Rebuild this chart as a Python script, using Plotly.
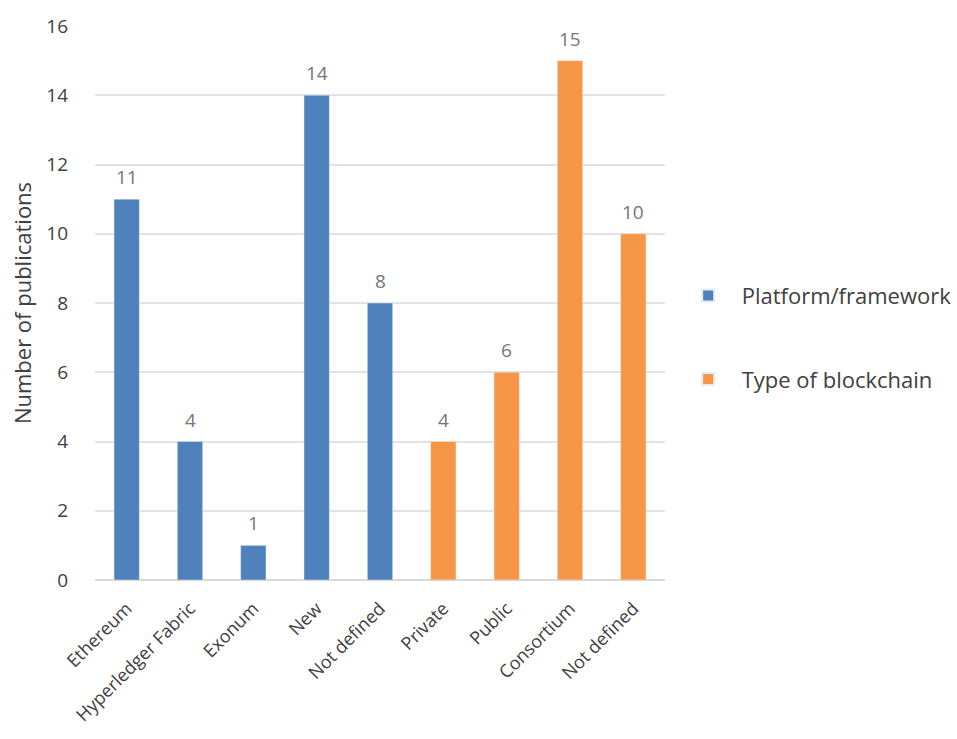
import plotly.graph_objects as go

platform_labels = ["Ethereum", "Hyperledger Fabric", "Exonum", "New", "Not defined"]
platform_values = [11, 4, 1, 14, 8]
type_labels = ["Private", "Public", "Consortium", "Not defined"]
type_values = [4, 6, 15, 10]

all_labels = platform_labels + type_labels
all_values = platform_values + type_values
px = list(range(len(platform_labels)))
tx = list(range(len(platform_labels), len(all_labels)))

font_fam = "Open Sans"
dark = "#404040"
lab_gray = "#767676"

fig = go.Figure()
fig.add_trace(go.Bar(
    x=px, y=platform_values, name="Platform/framework", legendgroup="a",
    marker=dict(color="#4f81bd"), width=0.4,
))
fig.add_trace(go.Bar(
    x=tx, y=type_values, name="Type of blockchain", legendgroup="b",
    marker=dict(color="#f79646"), width=0.4,
))

for xi, v in zip(range(len(all_labels)), all_values):
    fig.add_annotation(
        x=xi, y=v, text=str(v), showarrow=False, yanchor="bottom",
        yshift=7, font=dict(size=19, color=lab_gray, family=font_fam),
    )

fig.update_layout(
    width=957, height=739,
    margin=dict(l=95, r=292, t=26, b=159),
    plot_bgcolor="white", paper_bgcolor="white",
    barmode="overlay",
    font=dict(family=font_fam, color=dark, size=18),
    xaxis=dict(
        tickmode="array", tickvals=list(range(len(all_labels))), ticktext=all_labels,
        tickangle=-45, range=[-0.5, len(all_labels) - 0.5],
        showgrid=False, zeroline=False, showline=False,
        ticks="outside", ticklen=10, tickcolor="white",
        tickfont=dict(size=18, color=dark), automargin=False,
    ),
    yaxis=dict(
        range=[0, 16], dtick=2, showgrid=True, gridcolor="#e3e3e3", gridwidth=2,
        zeroline=True, zerolinecolor="#d9d9d9", zerolinewidth=2,
        ticklabelstandoff=26, automargin=False,
        tickfont=dict(size=19, color=dark),
        title=dict(text="Number of publications", font=dict(size=22, color=dark), standoff=8),
    ),
    legend=dict(
        xref="container", yref="container",
        x=0.705, y=0.543, xanchor="left", yanchor="middle",
        font=dict(size=22, color=dark), tracegroupgap=52,
        itemsizing="constant", itemwidth=57,
    ),
    showlegend=True,
)

fig.write_html("out.html")
